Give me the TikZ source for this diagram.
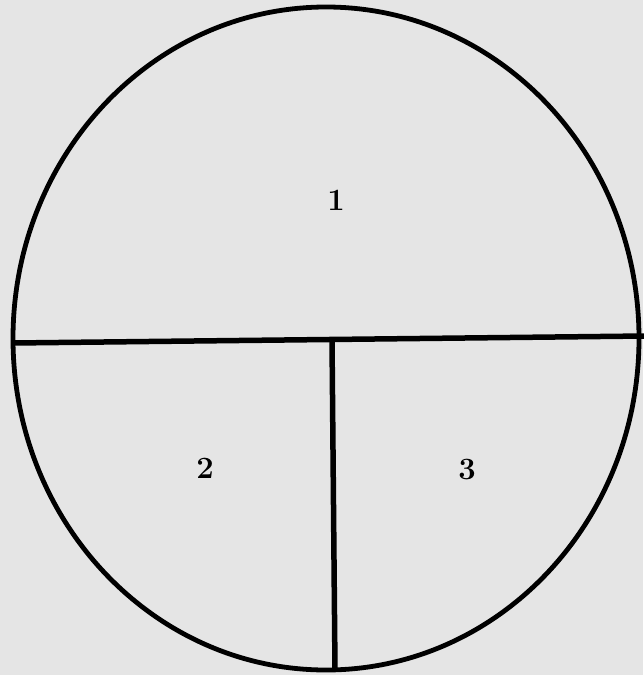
\documentclass[tikz,border=0pt]{standalone}
\begin{document}
\begin{tikzpicture}[x=1pt,y=-1pt,
  stroke/.style={line width=5.5pt,black},
  num/.style={font=\fontsize{31}{34}\selectfont\bfseries,inner sep=0pt}]
\definecolor{paper}{RGB}{229,229,229}
\fill[paper] (0,0) rectangle (643,675);
\useasboundingbox (0,0) rectangle (643,675);
\draw[stroke,line width=4.8pt] (326,338.5) ellipse [x radius=313, y radius=331.5];
\coordinate (hl) at (13,343);
\coordinate (hr) at (645,336);
\coordinate (vt) at (332,340);
\coordinate (vb) at (335,670);
\draw[stroke] (hl) -- (hr);
\draw[stroke] (vt) -- (vb);
\node[num] (n1) at (336,200) {1};
\node[num] (n2) at (205,468) {2};
\node[num] (n3) at (467,470) {3};
\end{tikzpicture}
\end{document}
